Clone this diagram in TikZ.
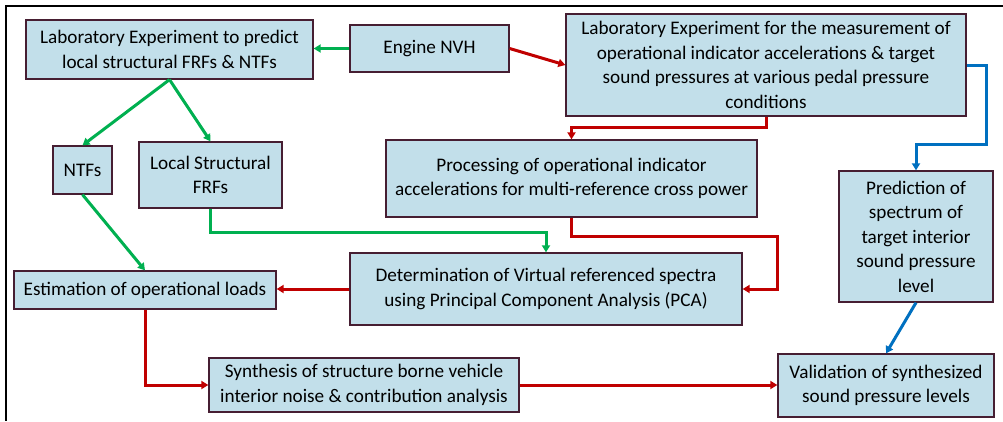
\documentclass[tikz,border=0pt]{standalone}
\usepackage{fontspec}
\setmainfont{Carlito}
\usetikzlibrary{arrows.meta}
\definecolor{boxfill}{RGB}{194,223,234}
\definecolor{boxline}{RGB}{70,30,50}
\definecolor{ggreen}{RGB}{0,176,80}
\definecolor{rred}{RGB}{192,0,0}
\definecolor{bblue}{RGB}{0,112,192}
\tikzset{
  box/.style={draw=boxline, line width=1.3pt, fill=boxfill, align=center, inner sep=2pt,
    font=\fontsize{19.2}{24.5}\selectfont},
  conn/.style={line width=3pt, -{Triangle[length=7pt,width=8pt]}},
  gconn/.style={conn, color=ggreen},
  rconn/.style={conn, color=rred},
  bconn/.style={conn, color=bblue},
}
\begin{document}
\begin{tikzpicture}[x=1pt,y=-1pt]
\useasboundingbox (0,0) rectangle (1003,421);
\draw[line width=2pt] (1003,6) -- (5.5,6) -- (5.5,421);
\node[box, minimum width=287pt, minimum height=59pt] (lab) at (169.5,49.5) {Laboratory Experiment to predict\\local structural FRFs \& NTFs};
\node[box, minimum width=159pt, minimum height=47pt] (eng) at (429.5,48.5) {Engine NVH};
\node[box, minimum width=400pt, minimum height=102pt] (meas) at (766,65) {Laboratory Experiment for the measurement of\\operational indicator accelerations \& target\\sound pressures at various pedal pressure\\conditions};
\node[box, minimum width=59pt, minimum height=48pt] (ntf) at (82.5,170) {NTFs};
\node[box, minimum width=143pt, minimum height=66pt] (lfrf) at (210.5,175) {Local Structural\\FRFs};
\node[box, minimum width=371pt, minimum height=77pt] (proc) at (571.5,178.5) {Processing of operational indicator\\accelerations for multi-reference cross power};
\node[box, minimum width=154pt, minimum height=131pt] (pred) at (916,236.5) {Prediction of\\spectrum of\\target interior\\sound pressure\\level};
\node[box, minimum width=262pt, minimum height=38pt] (est) at (145,290) {Estimation of operational loads};
\node[box, minimum width=392pt, minimum height=72pt] (det) at (546,289) {Determination of Virtual referenced spectra\\using Principal Component Analysis (PCA)};
\node[box, minimum width=310pt, minimum height=54pt] (syn) at (364,385) {Synthesis of structure borne vehicle\\interior noise \& contribution analysis};
\node[box, minimum width=216pt, minimum height=63pt] (val) at (886,385.5) {Validation of synthesized\\sound pressure levels};
\coordinate (b1) at (986,144);
\coordinate (r1) at (777,236);
\draw[gconn] (eng.west) -- (eng.west -| lab.east);
\draw[rconn] (eng.east) -- (meas.west);
\draw[gconn] (lab.south) -- (ntf.north);
\draw[gconn] (lab.south) -- (lfrf.north);
\draw[gconn] (ntf.south) -- (est.north);
\draw[gconn] (lfrf.south) -- ++(0,24) -| (det.north);
\draw[rconn] (meas.south) -- ++(0,11) -| (proc.north);
\draw[bconn] (meas.east) -| (b1) -| (pred.north);
\draw[rconn] (proc.south) |- (r1) |- (det.east);
\draw[rconn] (det.west) -- (det.west -| est.east);
\draw[rconn] (est.south) |- (syn.west);
\draw[rconn] (syn.east) -- (syn.east -| val.west);
\draw[bconn] (pred.south) -- (val.north);
\end{tikzpicture}
\end{document}
